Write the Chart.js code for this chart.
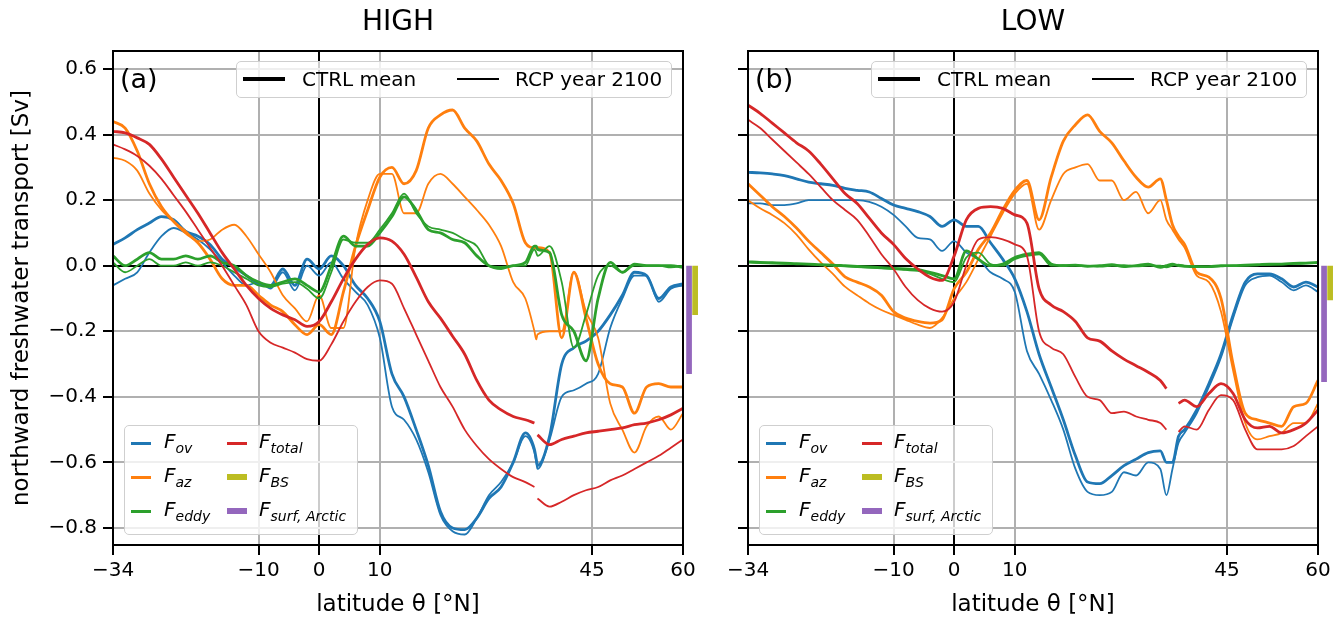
<!DOCTYPE html>
<html>
<head>
<meta charset="utf-8">
<script src="https://cdn.jsdelivr.net/npm/chart.js@4"></script>
<style>
body{margin:0;background:#fff;font-family:"DejaVu Sans",sans-serif;}
#wrap{position:relative;width:1343px;height:620px;overflow:hidden;}
canvas{position:absolute;top:0;}
.box{position:absolute;border:1.5px solid #cfcfcf;border-radius:5px;background:rgba(255,255,255,0.8);box-sizing:border-box;}
.lbl{position:absolute;font-size:20px;line-height:24px;white-space:nowrap;color:#000;}
.lbl i{font-style:italic;}
.lbl sub{font-size:14px;font-style:italic;vertical-align:-5px;line-height:0;}
.hd{position:absolute;}
.tag{position:absolute;font-size:27px;line-height:32px;color:#000;}
</style>
</head>
<body>
<div id="wrap">
  <canvas id="cA" width="705" height="620" style="left:0"></canvas>
  <canvas id="cB" width="638" height="620" style="left:705px"></canvas>
</div>
<script>
// latitude grids (a gap sits at ~36N where the basin section changes)
const latA = [-34,-32,-30,-28,-26,-24,-22,-20,-18,-16,-14,-12,-10,-8,-6,-4,-2,0,2,4,6,8,10,12,14,16,18,20,22,24,26,28,30,32,34,35.5,35.8,36,38,40,42,44,46,48,50,52,54,56,58,60];
const latB = [-34,-32,-30,-28,-26,-24,-22,-20,-18,-16,-14,-12,-10,-8,-6,-4,-2,0,2,4,6,8,10,12,14,16,18,20,22,24,26,28,30,32,34,35,36,37,38,40,42,44,46,48,50,52,54,56,58,60];

// HIGH
const ovCtrlA = [0.065,0.085,0.11,0.13,0.15,0.14,0.105,0.09,0.065,0.02,-0.005,-0.03,-0.055,-0.06,-0.01,-0.06,0.02,-0.01,0.03,0.0,-0.06,-0.1,-0.17,-0.33,-0.4,-0.5,-0.61,-0.75,-0.8,-0.805,-0.77,-0.71,-0.675,-0.6,-0.51,-0.56,-0.59,-0.61,-0.52,-0.3,-0.25,-0.23,-0.2,-0.15,-0.09,-0.02,-0.03,-0.1,-0.065,-0.055];
const ovRcpA = [-0.06,-0.04,-0.02,0.04,0.09,0.115,0.1,0.08,0.05,0.01,-0.03,-0.06,-0.05,-0.07,-0.02,-0.075,0.0,-0.03,0.01,-0.04,-0.08,-0.12,-0.22,-0.43,-0.47,-0.53,-0.63,-0.76,-0.81,-0.82,-0.77,-0.7,-0.66,-0.6,-0.52,-0.57,-0.6,-0.62,-0.53,-0.4,-0.38,-0.36,-0.33,-0.19,-0.1,-0.03,-0.03,-0.11,-0.07,-0.06];
const azCtrlA = [0.44,0.42,0.35,0.25,0.18,0.135,0.1,0.07,0.02,-0.04,-0.06,-0.06,-0.09,-0.12,-0.14,-0.18,-0.21,-0.18,-0.21,-0.08,0.06,0.17,0.27,0.3,0.25,0.29,0.42,0.46,0.475,0.42,0.38,0.31,0.26,0.19,0.07,0.055,0.055,0.055,0.04,-0.22,-0.02,-0.16,-0.3,-0.36,-0.37,-0.45,-0.37,-0.36,-0.37,-0.37];
const azRcpA = [0.33,0.32,0.29,0.22,0.17,0.135,0.105,0.075,0.08,0.11,0.125,0.09,0.035,-0.02,-0.09,-0.13,-0.17,-0.09,-0.19,-0.19,0.06,0.2,0.28,0.28,0.16,0.16,0.25,0.28,0.25,0.21,0.17,0.125,0.06,-0.05,-0.1,-0.2,-0.225,-0.21,-0.2,-0.2,-0.02,-0.14,-0.22,-0.42,-0.5,-0.57,-0.49,-0.46,-0.5,-0.45];
const eddyCtrlA = [0.03,0.0,0.02,0.04,0.02,0.02,0.03,0.02,0.03,0.01,0.0,-0.03,-0.05,-0.06,-0.05,-0.04,-0.06,-0.08,0.0,0.09,0.06,0.06,0.1,0.15,0.21,0.17,0.11,0.1,0.08,0.07,0.03,0.0,-0.005,0.0,0.01,0.06,0.06,0.05,0.04,-0.15,-0.2,-0.29,-0.1,0.01,-0.02,0.005,0.0,0.0,0.0,-0.005];
const eddyRcpA = [0.01,-0.02,0.0,0.02,0.0,0.0,0.01,0.0,0.01,0.0,-0.02,-0.04,-0.06,-0.065,-0.055,-0.05,-0.07,-0.1,-0.02,0.08,0.07,0.07,0.11,0.16,0.22,0.16,0.12,0.11,0.1,0.08,0.06,0.0,-0.01,0.0,0.0,0.05,0.04,0.03,0.06,-0.05,-0.25,-0.15,-0.03,0.0,-0.02,0.0,0.0,0.0,-0.005,0.0];
const totCtrlA = [0.41,0.405,0.39,0.37,0.325,0.27,0.215,0.16,0.1,0.04,-0.01,-0.06,-0.1,-0.13,-0.15,-0.165,-0.185,-0.17,-0.11,-0.04,0.02,0.065,0.085,0.075,0.035,-0.035,-0.11,-0.16,-0.215,-0.27,-0.35,-0.41,-0.44,-0.46,-0.47,-0.48,null,-0.516,-0.546,-0.53,-0.52,-0.51,-0.505,-0.5,-0.495,-0.485,-0.48,-0.47,-0.455,-0.435];
const totRcpA = [0.37,0.355,0.335,0.305,0.265,0.215,0.165,0.11,0.055,0.0,-0.06,-0.12,-0.2,-0.235,-0.25,-0.265,-0.285,-0.29,-0.24,-0.17,-0.11,-0.065,-0.045,-0.055,-0.13,-0.21,-0.29,-0.37,-0.43,-0.5,-0.55,-0.59,-0.62,-0.645,-0.66,-0.675,null,-0.71,-0.735,-0.72,-0.7,-0.685,-0.675,-0.655,-0.64,-0.62,-0.6,-0.58,-0.555,-0.53];
const bsA = -0.15, surfA = -0.33;

// LOW
const ovCtrlB = [0.285,0.283,0.28,0.275,0.265,0.255,0.25,0.245,0.236,0.23,0.225,0.205,0.185,0.175,0.165,0.15,0.12,0.14,0.12,0.12,0.07,0.02,-0.04,-0.14,-0.27,-0.37,-0.47,-0.58,-0.66,-0.665,-0.64,-0.61,-0.59,-0.57,-0.565,-0.6,-0.6,-0.52,-0.5,-0.44,-0.36,-0.27,-0.15,-0.05,-0.025,-0.025,-0.04,-0.065,-0.05,-0.065];
const ovRcpB = [0.19,0.19,0.185,0.185,0.19,0.2,0.2,0.2,0.2,0.2,0.195,0.18,0.155,0.12,0.085,0.08,0.045,0.075,0.04,0.02,-0.02,-0.04,-0.08,-0.26,-0.33,-0.41,-0.5,-0.62,-0.69,-0.7,-0.69,-0.63,-0.64,-0.6,-0.62,-0.7,-0.62,-0.54,-0.51,-0.45,-0.37,-0.28,-0.16,-0.06,-0.035,-0.03,-0.05,-0.075,-0.06,-0.08];
const azCtrlB = [0.25,0.215,0.18,0.15,0.115,0.075,0.04,0.005,-0.034,-0.05,-0.065,-0.09,-0.14,-0.16,-0.17,-0.175,-0.165,-0.07,-0.02,0.05,0.1,0.17,0.23,0.26,0.14,0.27,0.38,0.43,0.46,0.41,0.375,0.32,0.27,0.24,0.265,0.2,0.125,0.09,0.065,-0.02,-0.035,-0.1,-0.3,-0.45,-0.47,-0.48,-0.49,-0.43,-0.42,-0.35];
const azRcpB = [0.2,0.175,0.155,0.13,0.095,0.05,0.01,-0.025,-0.064,-0.09,-0.115,-0.135,-0.15,-0.165,-0.18,-0.19,-0.16,-0.1,-0.05,0.02,0.09,0.16,0.22,0.25,0.11,0.2,0.28,0.3,0.31,0.26,0.26,0.2,0.225,0.16,0.2,0.14,0.11,0.08,0.055,-0.03,-0.05,-0.14,-0.32,-0.48,-0.53,-0.52,-0.51,-0.48,-0.48,-0.42];
const eddyCtrlB = [0.012,0.01,0.009,0.008,0.006,0.005,0.003,0.002,0.0,-0.002,-0.004,-0.006,-0.008,-0.01,-0.012,-0.02,-0.03,-0.04,0.045,0.02,0.0,0.005,0.025,0.035,0.04,0.005,0.0,0.002,-0.002,0.0,0.003,-0.003,0.0,0.005,-0.005,0.0,0.005,0.0,-0.002,-0.003,-0.003,0.0,0.0,0.002,0.003,0.005,0.005,0.007,0.008,0.01];
const eddyRcpB = [0.01,0.008,0.007,0.006,0.005,0.004,0.002,0.0,-0.002,-0.004,-0.006,-0.008,-0.01,-0.013,-0.016,-0.025,-0.04,-0.05,0.025,0.04,0.005,0.0,0.02,0.03,0.035,0.0,0.002,0.0,0.0,-0.003,0.0,0.002,-0.002,0.0,0.0,-0.005,0.0,0.003,0.0,-0.002,-0.004,-0.002,0.0,0.0,0.002,0.003,0.004,0.006,0.007,0.008];
const totCtrlB = [0.49,0.465,0.435,0.405,0.375,0.35,0.31,0.265,0.22,0.19,0.145,0.1,0.065,0.022,-0.01,-0.035,-0.045,0.03,0.14,0.175,0.18,0.175,0.155,0.13,-0.07,-0.12,-0.14,-0.17,-0.22,-0.23,-0.26,-0.285,-0.305,-0.325,-0.35,-0.375,null,-0.42,-0.41,-0.43,-0.39,-0.36,-0.39,-0.47,-0.495,-0.49,-0.51,-0.5,-0.48,-0.44];
const totRcpB = [0.445,0.42,0.385,0.35,0.315,0.28,0.24,0.2,0.17,0.14,0.09,0.035,-0.01,-0.065,-0.105,-0.13,-0.14,-0.11,0.0,0.08,0.087,0.08,0.065,0.03,-0.2,-0.25,-0.27,-0.34,-0.4,-0.41,-0.45,-0.445,-0.46,-0.47,-0.48,-0.5,null,-0.507,-0.49,-0.5,-0.44,-0.395,-0.41,-0.5,-0.56,-0.56,-0.56,-0.55,-0.52,-0.49];
const bsB = -0.105, surfB = -0.355;

// where the two boundary-flux bars stand, just east of 60N
const latSurf = 61, latBS = 62;

const xTicks = [-34, -10, 0, 10, 45, 60];
const yTicks = [-0.8, -0.6, -0.4, -0.2, 0, 0.2, 0.4, 0.6];
const xMin = -34, xMax = 60, yMin = -0.852, yMax = 0.655;

const col = {ov:'#1f77b4', az:'#ff7f0e', eddy:'#2ca02c', total:'#d62728', bs:'#bcbd22', surf:'#9467bd'};
const wCtrl = 2.8, wRcp = 1.8;

Chart.defaults.font.family = '"DejaVu Sans", sans-serif';
Chart.defaults.color = '#000';

const minus = v => (v < 0 ? '\u2212' : '');
const fmtX = v => minus(v) + Math.abs(v);
const fmtY = v => minus(v) + Math.abs(v).toFixed(1);
const gridCol = c => (c.tick && c.tick.value === 0) ? '#000' : '#b0b0b0';

function line(lat, vals, color, w){
  return {data: lat.map((x, i) => ({x: x, y: vals[i]})), borderColor: color, borderWidth: w,
          pointRadius: 0, fill: false, cubicInterpolationMode: 'monotone', spanGaps: false};
}
function bar(x, v, color){
  return {data: [{x: x, y: 0}, {x: x, y: v}], borderColor: color, borderWidth: 5.7,
          borderCapStyle: 'butt', pointRadius: 0, clip: false};
}

// top and right spines
const frame = {
  id: 'frame',
  afterDraw(c){
    const {ctx, chartArea: a} = c;
    ctx.save();
    ctx.strokeStyle = '#000'; ctx.lineWidth = 2;
    ctx.strokeRect(a.left, a.top, a.right - a.left, a.bottom - a.top);
    ctx.restore();
  }
};

function panel(id, title, lat, s, bs, surf, yW, padR, showY){
  return new Chart(document.getElementById(id), {
    type: 'line',
    data: {datasets: [
      line(lat, s.totRcp, col.total, wRcp), line(lat, s.totCtrl, col.total, wCtrl),
      line(lat, s.eddyRcp, col.eddy, wRcp), line(lat, s.eddyCtrl, col.eddy, wCtrl),
      line(lat, s.azRcp, col.az, wRcp), line(lat, s.azCtrl, col.az, wCtrl),
      line(lat, s.ovRcp, col.ov, wRcp), line(lat, s.ovCtrl, col.ov, wCtrl),
      bar(latSurf, surf, col.surf), bar(latBS, bs, col.bs)
    ]},
    options: {
      responsive: false, animation: false,
      layout: {padding: {left: 0, right: padR, top: 0, bottom: 0}},
      plugins: {
        legend: {display: false}, tooltip: {enabled: false},
        title: {display: true, text: title, fullSize: false, color: '#000',
                font: {size: 28, weight: 'normal'}, padding: {top: 6, bottom: 11.4}}
      },
      scales: {
        x: {
          type: 'linear', bounds: 'data',
          afterDataLimits: sc => { sc.min = xMin; sc.max = xMax; },
          afterBuildTicks: sc => { sc.ticks = xTicks.map(v => ({value: v})); },
          afterFit: sc => { sc.height = 75; },
          ticks: {autoSkip: false, maxRotation: 0, font: {size: 20}, padding: 4, callback: fmtX},
          grid: {color: gridCol, lineWidth: 2, tickColor: '#000', tickLength: 10, tickWidth: 2},
          border: {color: '#000', width: 2},
          title: {display: true, text: 'latitude \u03b8 [\u00b0N]', font: {size: 23}, padding: {top: 0, bottom: 1}}
        },
        y: {
          type: 'linear', bounds: 'data', min: yMin, max: yMax,
          afterBuildTicks: sc => { sc.ticks = yTicks.map(v => ({value: v})); },
          afterFit: sc => { sc.width = yW; },
          ticks: {display: showY, font: {size: 20}, padding: 6, callback: fmtY},
          grid: {color: gridCol, lineWidth: 2, tickColor: '#000', tickLength: 10, tickWidth: 2},
          border: {color: '#000', width: 2},
          title: {display: showY, text: 'northward freshwater transport [Sv]', font: {size: 23}, padding: {top: 8, bottom: 0}}
        }
      }
    },
    plugins: [frame]
  });
}

panel('cA', 'HIGH', latA, {ovCtrl: ovCtrlA, ovRcp: ovRcpA, azCtrl: azCtrlA, azRcp: azRcpA,
  eddyCtrl: eddyCtrlA, eddyRcp: eddyRcpA, totCtrl: totCtrlA, totRcp: totRcpA}, bsA, surfA, 113, 22, true);
panel('cB', 'LOW', latB, {ovCtrl: ovCtrlB, ovRcp: ovRcpB, azCtrl: azCtrlB, azRcp: azRcpB,
  eddyCtrl: eddyCtrlB, eddyRcp: eddyRcpB, totCtrl: totCtrlB, totRcp: totRcpB}, bsB, surfB, 43, 25, false);

// legends (html so the subscripts stay real text)
const wrap = document.getElementById('wrap');
function el(cls, css, html){
  const d = document.createElement('div');
  d.className = cls;
  Object.assign(d.style, css);
  if (html) d.innerHTML = html;
  wrap.appendChild(d);
  return d;
}
const px = v => v + 'px';
const math = (sub) => '<i>F</i><sub>' + sub + '</sub>';
const rows = [
  [col.ov, 3, math('ov'), col.total, 3, math('total')],
  [col.az, 3, math('az'), col.bs, 6, math('BS')],
  [col.eddy, 3, math('eddy'), col.surf, 6, math('surf, Arctic')]
];

function legends(dx, tag){
  el('tag', {left: px(120 + dx), top: px(63)}, tag);
  el('box', {left: px(236 + dx), top: px(61), width: px(436), height: px(37)});
  el('hd', {left: px(243 + dx), top: px(77), width: px(42), height: px(3.5), background: '#000'});
  el('lbl', {left: px(302 + dx), top: px(67)}, 'CTRL mean');
  el('hd', {left: px(457 + dx), top: px(77.5), width: px(42), height: px(2.2), background: '#000'});
  el('lbl', {left: px(515 + dx), top: px(67)}, 'RCP year 2100');

  el('box', {left: px(124 + dx), top: px(425), width: px(234), height: px(110)});
  rows.forEach((r, i) => {
    const cy = 443 + i * 34;
    el('hd', {left: px(131 + dx), top: px(cy - r[1] / 2), width: px(20), height: px(r[1]), background: r[0]});
    el('lbl', {left: px(164 + dx), top: px(cy - 14)}, r[2]);
    el('hd', {left: px(227 + dx), top: px(cy - r[4] / 2), width: px(20), height: px(r[4]), background: r[3]});
    el('lbl', {left: px(259 + dx), top: px(cy - 14)}, r[5]);
  });
}
legends(0, '(a)');
legends(635, '(b)');
</script>
</body>
</html>
